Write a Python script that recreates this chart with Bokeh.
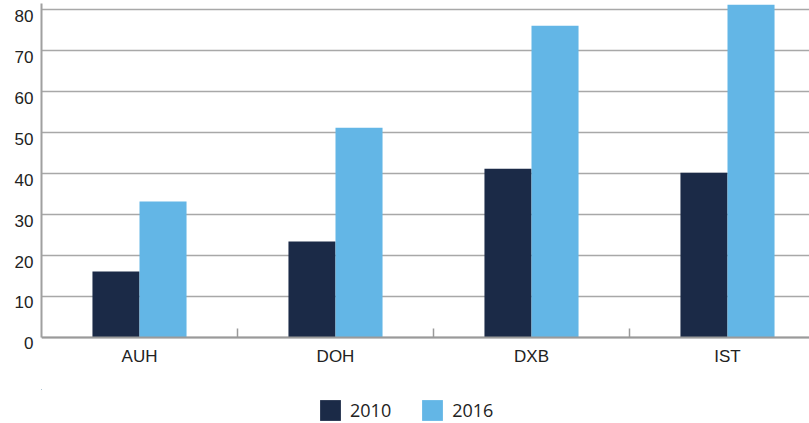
from bokeh.plotting import figure
from bokeh.models import ColumnDataSource, Range1d, FixedTicker, Legend, LegendItem, LinearAxis
from bokeh.layouts import column
from bokeh.transform import dodge
from bokeh.embed import file_html
from bokeh.resources import INLINE

airports = ["AUH", "DOH", "DXB", "IST"]
values_2010 = [16.1, 23.4, 41.2, 40.2]
values_2016 = [33.2, 51.2, 76.1, 81.2]
y_ticks = [0, 10, 20, 30, 40, 50, 60, 70, 80]
series = ["2010", "2016"]
colors = ["#1b2a47", "#63b6e6"]

Y_START = -2.2
Y_END = 81.5
LABEL_SHIFT = 1.46  # tick labels sit slightly below their gridlines

centers = [i + 0.5 for i in range(len(airports))]
src = ColumnDataSource(dict(x=centers, v2010=values_2010, v2016=values_2016))

p = figure(width=809, height=389, output_backend="svg", toolbar_location=None,
           x_range=Range1d(0, 768 / 196), y_range=Range1d(Y_START, Y_END),
           y_axis_location=None,
           min_border_left=41, min_border_right=0, min_border_top=3, min_border_bottom=43)
p.outline_line_color = None
p.background_fill_color = "white"

p.vbar(x=dodge("x", -0.12, range=p.x_range), top="v2010", bottom=0, width=0.24, source=src,
       fill_color=colors[0], line_color=None)
p.vbar(x=dodge("x", 0.12, range=p.x_range), top="v2016", bottom=0, width=0.24, source=src,
       fill_color=colors[1], line_color=None)

# x axis category labels (normal position below the frame)
xlab = p.xaxis[0]
xlab.ticker = FixedTicker(ticks=centers)
xlab.major_label_overrides = {c: a for c, a in zip(centers, airports)}
xlab.axis_line_color = None
xlab.major_tick_line_color = None
xlab.minor_tick_line_color = None
xlab.major_tick_out = 0
xlab.major_tick_in = 0
xlab.major_label_text_font = "Liberation Sans"
xlab.major_label_text_font_size = "17px"
xlab.major_label_text_color = "#222222"
xlab.major_label_standoff = 0
p.xgrid.visible = False

# x axis line and category separators, drawn at y = 0
xline = LinearAxis(ticker=FixedTicker(ticks=[], minor_ticks=[1, 2, 3]), fixed_location=0)
xline.major_tick_line_color = None
xline.major_tick_in = 0
xline.major_tick_out = 0
xline.minor_tick_in = 9
xline.minor_tick_out = 0
xline.minor_tick_line_color = "#9a9a9a"
xline.minor_tick_line_width = 1.5
xline.axis_line_color = "#9a9a9a"
xline.axis_line_width = 2
xline.major_label_standoff = 0
p.add_layout(xline, "below")

# y axis line (from 0 to the top)
yline = LinearAxis(ticker=FixedTicker(ticks=[]), bounds=(0, Y_END))
yline.axis_line_color = "#a0a0a0"
yline.axis_line_width = 2
yline.major_tick_in = 0
yline.major_tick_out = 0
yline.minor_tick_in = 0
yline.minor_tick_out = 0
yline.major_label_standoff = 0
p.add_layout(yline, "left")

# y tick labels on a shifted copy of the range
p.extra_y_ranges = {"lab": Range1d(Y_START + LABEL_SHIFT, Y_END + LABEL_SHIFT)}
yax = LinearAxis(y_range_name="lab", ticker=FixedTicker(ticks=y_ticks))
yax.axis_line_color = None
yax.major_tick_line_color = None
yax.minor_tick_line_color = None
yax.major_tick_out = 0
yax.major_tick_in = 0
yax.major_label_text_font = "Liberation Sans"
yax.major_label_text_font_size = "17px"
yax.major_label_text_color = "#222222"
yax.major_label_standoff = 8
p.add_layout(yax, "left")

p.ygrid.ticker = FixedTicker(ticks=y_ticks)
p.ygrid.grid_line_color = "#a8a8a8"
p.ygrid.grid_line_width = 1.5

# legend strip below the chart
q = figure(width=809, height=34, output_backend="svg", toolbar_location=None,
           x_range=Range1d(100, 101), y_range=Range1d(-2, -1),
           x_axis_location=None, y_axis_location=None,
           min_border_left=0, min_border_right=0, min_border_top=0, min_border_bottom=0)
q.outline_line_color = None
q.grid.visible = False
lr1 = q.vbar(x="x", top="v2010", width=0.1, source=src, fill_color=colors[0], line_color=None)
lr2 = q.vbar(x="x", top="v2016", width=0.1, source=src, fill_color=colors[1], line_color=None)

legend = Legend(items=[LegendItem(label=series[0], renderers=[lr1]),
                       LegendItem(label=series[1], renderers=[lr2])],
                location=(276, 0), orientation="horizontal",
                glyph_width=26, glyph_height=26, label_standoff=7, spacing=28,
                padding=0, margin=0, border_line_color=None, background_fill_alpha=0,
                label_text_font="Open Sans", label_text_font_size="18px",
                label_text_color="#222222", label_height=20)
q.add_layout(legend, "center")

open("out.html", "w").write(file_html(column(p, q, spacing=0), INLINE))
